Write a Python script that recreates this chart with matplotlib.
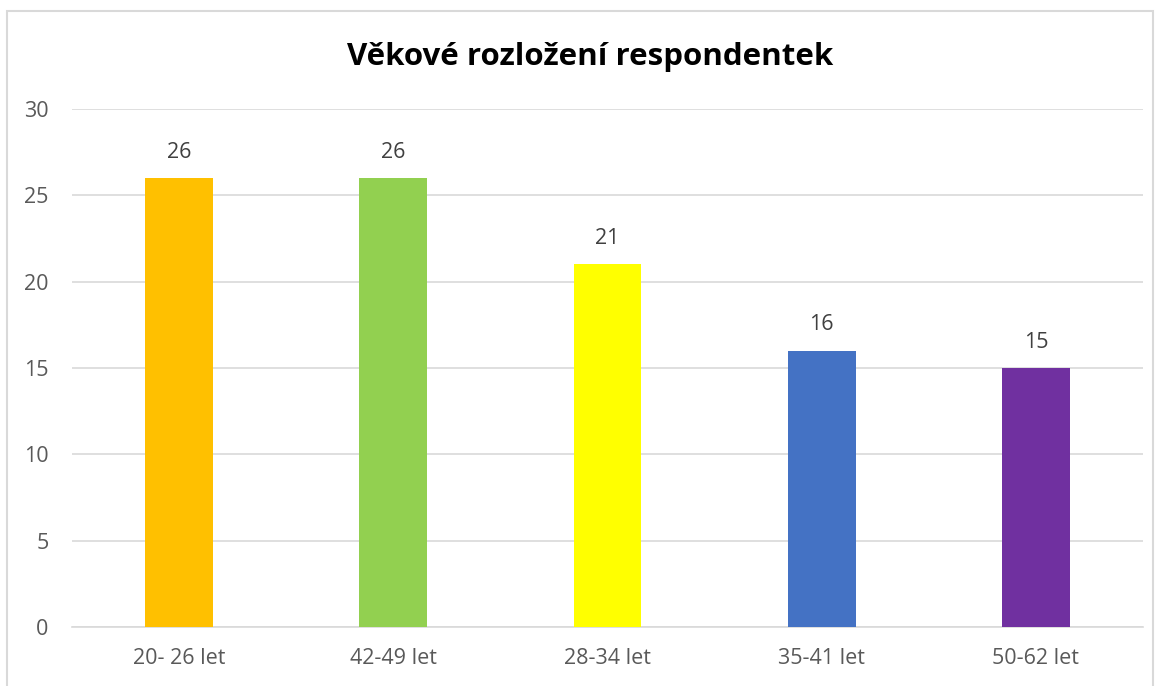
import matplotlib.pyplot as plt
from matplotlib.patches import Rectangle

categories = ["20- 26 let", "42-49 let", "28-34 let", "35-41 let", "50-62 let"]
counts = [26, 26, 21, 16, 15]
colors = ["#FFC000", "#92D050", "#FFFF00", "#4472C4", "#7030A0"]
yticks = [0, 5, 10, 15, 20, 25, 30]

plt.rcParams["font.family"] = ["Open Sans", "DejaVu Sans"]

fig = plt.figure(figsize=(11.6, 6.86), dpi=100)
ax = fig.add_axes([72 / 1160, 1 - 627 / 686, (1143 - 72) / 1160, (627 - 109) / 686])

# outer chart frame
fig.patches.append(Rectangle((7 / 1160, -0.05), (1153 - 7) / 1160, 1.05 - 11 / 686,
                             transform=fig.transFigure, fill=False,
                             edgecolor="#D9D9D9", lw=1.5))

x = range(len(categories))
bars = ax.bar(x, counts, width=0.317, color=colors, zorder=3)
for b, v in zip(bars, counts):
    ax.text(b.get_x() + b.get_width() / 2, v + 1.5, str(v), ha="center", va="center",
            fontsize=15.5, color="#404040")

ax.set_xlim(-0.5, len(categories) - 0.5)
ax.set_ylim(0, 30)
ax.set_yticks(yticks)
ax.set_xticks(list(x))
ax.set_xticklabels(categories)
ax.tick_params(axis="both", length=0, labelsize=15.5, labelcolor="#595959")
ax.tick_params(axis="x", pad=15)
ax.tick_params(axis="y", pad=17)
ax.yaxis.grid(True, color="#D9D9D9", lw=1.2, zorder=0)
for s in ["top", "right", "left"]:
    ax.spines[s].set_visible(False)
ax.spines["bottom"].set_color("#D9D9D9")
ax.spines["bottom"].set_linewidth(1.2)

fig.text(590 / 1160, 1 - 57 / 686, "Věkové rozložení respondentek", ha="center", va="center",
         fontsize=22.5, fontweight="bold", color="black")

fig.savefig("out.png", dpi=100)
